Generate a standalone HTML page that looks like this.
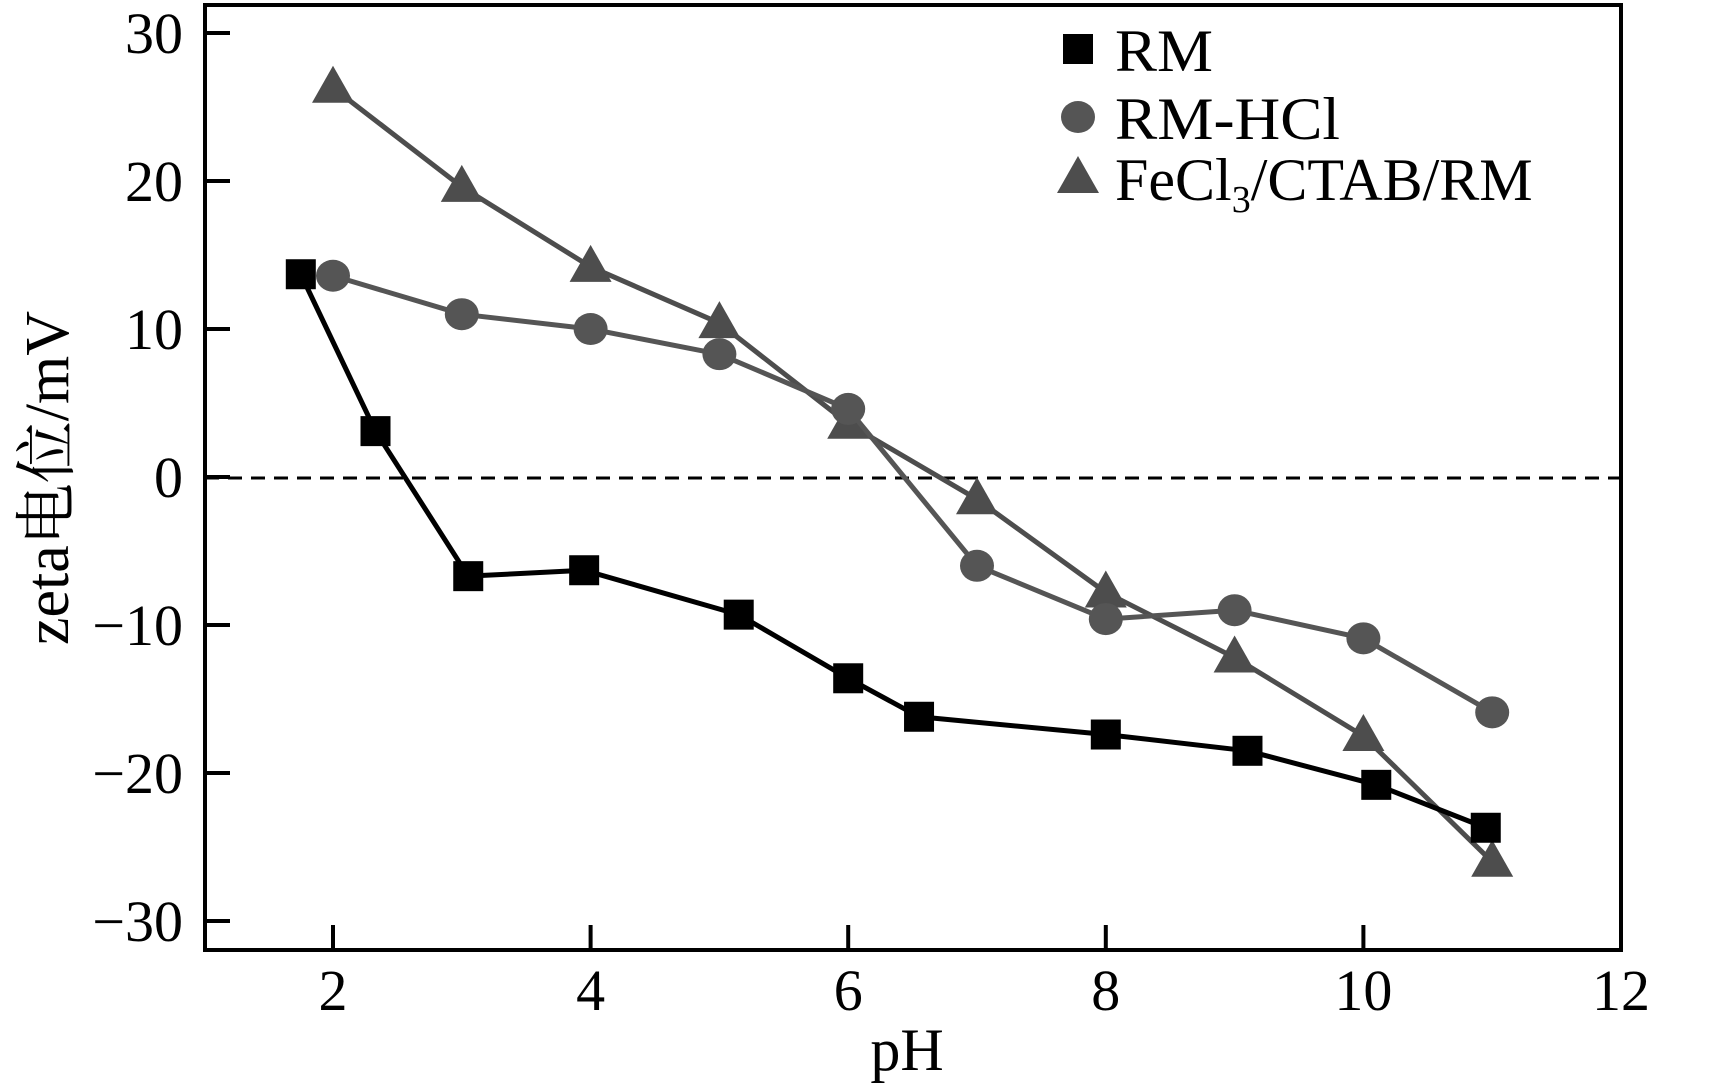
<!DOCTYPE html>
<html><head><meta charset="utf-8"><style>
html,body{margin:0;padding:0;background:#fff;}
svg{display:block;}
text{font-family:"Liberation Serif","Noto Serif CJK SC",serif;}
</style></head><body>
<svg id="chart" width="1714" height="1088" viewBox="0 0 1714 1088" xmlns="http://www.w3.org/2000/svg"></svg>
<script>
const xTicks=[2,4,6,8,10,12];
const yTicks=[30,20,10,0,-10,-20,-30];
const rmX=[1.75,2.33,3.05,3.95,5.15,6.0,6.55,8.0,9.1,10.1,10.95];
const rmY=[13.7,3.1,-6.7,-6.3,-9.3,-13.6,-16.2,-17.4,-18.5,-20.8,-23.7];
const hclX=[2,3,4,5,6,7,8,9,10,11];
const hclY=[13.6,11,10,8.3,4.6,-6,-9.6,-9,-10.9,-15.9];
const feX=[2,3,4,5,6,7,8,9,10,11];
const feY=[26.3,19.6,14.2,10.4,3.6,-1.5,-7.8,-12.2,-17.5,-26];
const L=205,R=1621,T=5,B=950;
function sx(v){return 333+(v-2)*128.8;}
function sy(v){return 477-v*14.8;}
const svg=document.getElementById('chart');
const NS='http://www.w3.org/2000/svg';
function mk(tag,attrs,parent){const e=document.createElementNS(NS,tag);for(const k in attrs)e.setAttribute(k,attrs[k]);(parent||svg).appendChild(e);return e;}
let z=mk('line',{x1:L,x2:R,y1:sy(0)+1,y2:sy(0)+1,stroke:'#000','stroke-width':3,'stroke-dasharray':'14,9'});


let fr=mk('rect',{x:L,y:T,width:R-L,height:B-T,fill:'none',stroke:'#000','stroke-width':4});


xTicks.forEach(t=>{
  const tk=mk('line',{x1:sx(t),x2:sx(t),y1:B,y2:B-25,stroke:'#000','stroke-width':4});
  
  
  const tx=mk('text',{x:sx(t),y:B+60,'font-size':58,'text-anchor':'middle'});
  tx.textContent=t;
  
  
});
yTicks.forEach(t=>{
  const tk=mk('line',{x1:L,x2:L+25,y1:sy(t),y2:sy(t),stroke:'#000','stroke-width':4});
  
  
  const tx=mk('text',{x:L-22,y:sy(t)+20,'font-size':58,'text-anchor':'end'});
  tx.textContent=t<0?'\u2212'+(-t):t;
  
  
});
function marker(type,x,y,color,g){
  let m;
  if(type==='sq') m=mk('rect',{x:x-15,y:y-15,width:30,height:30,fill:color},g);
  else if(type==='ci') m=mk('ellipse',{cx:x,cy:y,rx:17,ry:16,fill:color},g);
  else m=mk('polygon',{points:`${x},${y-22} ${x-21},${y+15} ${x+21},${y+15}`,fill:color},g);
  return m;
}
function series(name,xs,ys,type,color){
  const g=mk('g',{});
  
  
  const pl=mk('polyline',{points:xs.map((v,i)=>sx(v)+','+sy(ys[i])).join(' '),fill:'none',stroke:color,'stroke-width':5,'stroke-linejoin':'round'},g);
  
  
  xs.forEach((v,i)=>{
    const m=marker(type,sx(v),sy(ys[i]),color,g);
    
    
  });
}
series('fecl3-ctab-rm',feX,feY,'tr','#4d4d4d');
series('rm-hcl',hclX,hclY,'ci','#555555');
series('rm',rmX,rmY,'sq','#000000');
const leg=mk('g',{});


const legItems=[['RM','sq','#000',49],['RM-HCl','ci','#555',117],['FeCl3/CTAB/RM','tr','#4d4d4d',178]];
legItems.forEach(it=>{
  const m=marker(it[1],1078,it[3],it[2],leg);
  
  
  const t=mk('text',{x:1115,y:it[3]+22,'font-size':60,textLength:it[0].startsWith('FeCl')?465:(it[0]==='RM'?98:225),lengthAdjust:'spacingAndGlyphs'},leg);
  if(it[0].startsWith('FeCl')){
    t.removeAttribute('textLength');
    t.innerHTML='FeCl<tspan font-size="38" dy="12">3</tspan><tspan dy="-12">/CTAB/RM</tspan>';
  } else t.textContent=it[0];
  
  
});
const xl=mk('text',{x:907,y:1070,'font-size':60,'text-anchor':'middle'});
xl.textContent='pH';


const yl=mk('text',{x:0,y:0,'font-size':62,'text-anchor':'middle',transform:'translate(68,478) rotate(-90)'});
yl.textContent='zeta电位/mV';


</script>
</body></html>
